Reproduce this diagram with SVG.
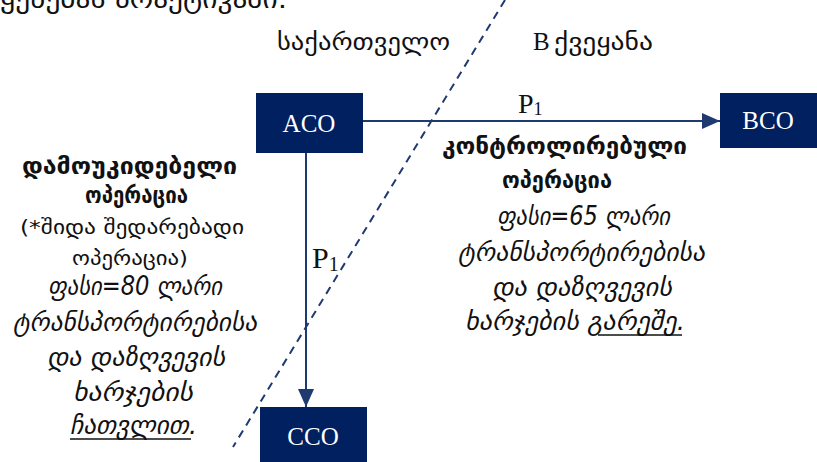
<svg xmlns="http://www.w3.org/2000/svg" width="817" height="462" viewBox="0 0 817 462">
<defs>
<marker id="ah" viewBox="0 0 18 16" refX="18" refY="8" markerWidth="18" markerHeight="16" markerUnits="userSpaceOnUse" orient="auto">
<path d="M0,0 L18,8 L0,16 z" fill="#1F3A70"/>
</marker>
<style>
.box{fill:#002060}
.bl{fill:#fff;font-family:"Liberation Serif",serif;font-size:25px;text-anchor:middle}
.ka{font-family:"DejaVu Sans",sans-serif;fill:#111}
.kb{font-family:"DejaVu Sans",sans-serif;font-weight:bold;fill:#111}
.ki{font-family:"DejaVu Sans",sans-serif;font-style:italic;fill:#111}
.p{font-family:"Liberation Serif",serif;fill:#111}
.conn{stroke:#1F3A70;stroke-width:2;fill:none}
</style>
</defs>
<rect width="817" height="462" fill="#fff"/>

<text class="ka" x="0" y="8" font-size="25" textLength="287" lengthAdjust="spacingAndGlyphs">ყენებას პრაქტიკაში.</text>
<text class="ka" x="277" y="50" font-size="23" textLength="173" lengthAdjust="spacingAndGlyphs">საქართველო</text>
<text class="p" x="533" y="50" font-size="25">B</text>
<text class="ka" x="554" y="50" font-size="23" textLength="99" lengthAdjust="spacingAndGlyphs">ქვეყანა</text>

<g id="connectors">
<line class="conn" x1="505" y1="0" x2="233" y2="447" stroke-dasharray="8,6"/>
<line class="conn" x1="363" y1="121" x2="720" y2="121" marker-end="url(#ah)"/>
<line class="conn" x1="306" y1="153" x2="306" y2="407" marker-end="url(#ah)"/>
<text class="p" x="518" y="113" font-size="28">P<tspan font-size="18" dy="2">1</tspan></text>
<text class="p" x="312" y="268" font-size="30">P<tspan font-size="20" dy="3">1</tspan></text>
</g>

<g id="ACO">
<rect class="box" x="256" y="93" width="107" height="60"/>
<text class="bl" x="309" y="132">ACO</text>
</g>
<g id="BCO">
<rect class="box" x="720" y="93" width="97" height="55"/>
<text class="bl" x="768" y="129">BCO</text>
</g>
<g id="CCO">
<rect class="box" x="260" y="407" width="107" height="55"/>
<text class="bl" x="313" y="445">CCO</text>
</g>

<g id="left-label">
<text class="kb" x="22" y="174" font-size="23" textLength="215" lengthAdjust="spacingAndGlyphs">დამოუკიდებელი</text>
<text class="kb" x="85" y="203" font-size="23" textLength="103" lengthAdjust="spacingAndGlyphs">ოპერაცია</text>
<text class="ka" x="20" y="234" font-size="20" textLength="224" lengthAdjust="spacingAndGlyphs">(*შიდა შედარებადი</text>
<text class="ka" x="72" y="265" font-size="20" textLength="116" lengthAdjust="spacingAndGlyphs">ოპერაცია)</text>
<text class="ki" x="48" y="295" font-size="26" textLength="174" lengthAdjust="spacingAndGlyphs">ფასი=80 ლარი</text>
<text class="ki" x="13" y="331" font-size="26" textLength="244" lengthAdjust="spacingAndGlyphs">ტრანსპორტირებისა</text>
<text class="ki" x="47" y="366" font-size="26" textLength="178" lengthAdjust="spacingAndGlyphs">და დაზღვევის</text>
<text class="ki" x="73" y="401" font-size="26" textLength="120" lengthAdjust="spacingAndGlyphs">ხარჯების</text>
<text class="ki" x="70" y="434" font-size="26" textLength="127" lengthAdjust="spacingAndGlyphs">ჩათვლით.</text>
<line x1="70" y1="439" x2="191" y2="439" stroke="#111" stroke-width="1.5"/>
</g>

<g id="right-label">
<text class="kb" x="442" y="154" font-size="23" textLength="245" lengthAdjust="spacingAndGlyphs">კონტროლირებული</text>
<text class="kb" x="502" y="188" font-size="23" textLength="110" lengthAdjust="spacingAndGlyphs">ოპერაცია</text>
<text class="ki" x="497" y="225" font-size="26" textLength="173" lengthAdjust="spacingAndGlyphs">ფასი=65 ლარი</text>
<text class="ki" x="458" y="261" font-size="26" textLength="247" lengthAdjust="spacingAndGlyphs">ტრანსპორტირებისა</text>
<text class="ki" x="492" y="296" font-size="26" textLength="180" lengthAdjust="spacingAndGlyphs">და დაზღვევის</text>
<text class="ki" x="465" y="330" font-size="26" textLength="220" lengthAdjust="spacingAndGlyphs">ხარჯების გარეშე.</text>
<line x1="598" y1="335" x2="682" y2="335" stroke="#111" stroke-width="1.5"/>
</g>
</svg>
